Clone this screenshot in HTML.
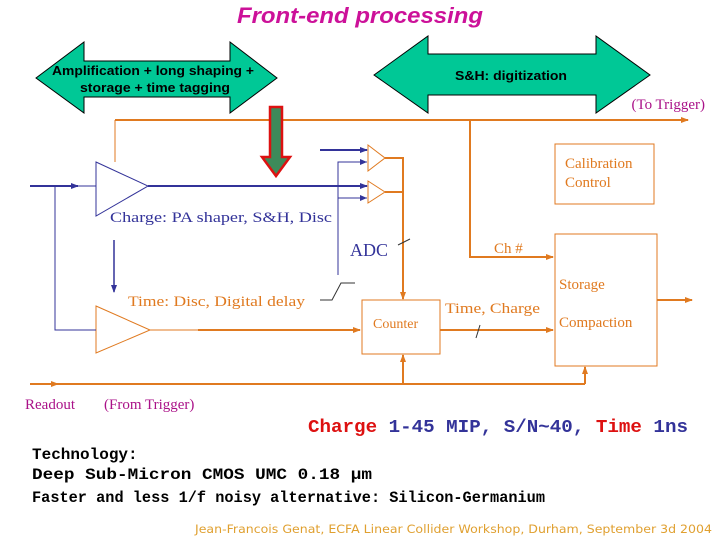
<!DOCTYPE html>
<html><head><meta charset="utf-8"><style>
html,body{margin:0;padding:0;background:#fff;}
svg{display:block;}
</style></head><body>
<svg width="720" height="540" viewBox="0 0 720 540" xmlns="http://www.w3.org/2000/svg">
<defs>
<marker id="ao" markerWidth="8" markerHeight="8" refX="7" refY="4" orient="auto" markerUnits="userSpaceOnUse"><path d="M0,1 L8,4 L0,7 z" fill="#e07a20"/></marker>
<marker id="ab" markerWidth="8" markerHeight="8" refX="7" refY="4" orient="auto" markerUnits="userSpaceOnUse"><path d="M0,1 L8,4 L0,7 z" fill="#333399"/></marker>
</defs>
<text x="360" y="23" text-anchor="middle" font-family="Liberation Sans, sans-serif" font-size="22" font-style="italic" font-weight="bold" fill="#cc1199" textLength="246" lengthAdjust="spacingAndGlyphs">Front-end processing</text>
<polygon points="36,78 84,42 84,61 230,61 230,42 277,78 230,113 230,97 84,97 84,113" fill="#00c896" stroke="#000" stroke-width="1"/>
<polygon points="374,75 428,36 428,54 596,54 596,36 650,75 596,113 596,95 428,95 428,113" fill="#00c896" stroke="#000" stroke-width="1"/>
<text x="153" y="75" text-anchor="middle" font-family="Liberation Sans, sans-serif" font-size="13" font-weight="bold" fill="#000" textLength="202" lengthAdjust="spacingAndGlyphs">Amplification + long shaping +</text>
<text x="155" y="92" text-anchor="middle" font-family="Liberation Sans, sans-serif" font-size="13" font-weight="bold" fill="#000" textLength="150" lengthAdjust="spacingAndGlyphs">storage + time tagging</text>
<text x="511" y="80" text-anchor="middle" font-family="Liberation Sans, sans-serif" font-size="13" font-weight="bold" fill="#000" textLength="112" lengthAdjust="spacingAndGlyphs">S&amp;H: digitization</text>
<text x="705" y="109" text-anchor="end" font-family="Liberation Serif, serif" font-size="15" fill="#aa1188">(To Trigger)</text>
<g stroke="#e07a20" stroke-width="2" fill="none">
<line x1="115" y1="120" x2="688" y2="120" marker-end="url(#ao)"/>
<line x1="115" y1="120" x2="115" y2="162" stroke-width="1"/>
<polyline points="470,120 470,257 553,257" marker-end="url(#ao)"/>
<polyline points="385,158 403,158 403,299" marker-end="url(#ao)"/>
<line x1="385" y1="192" x2="403" y2="192"/>
<line x1="198" y1="330" x2="360" y2="330" marker-end="url(#ao)"/>
<line x1="440" y1="330" x2="553" y2="330" marker-end="url(#ao)"/>
<line x1="657" y1="300" x2="692" y2="300" marker-end="url(#ao)"/>
<line x1="30" y1="384" x2="585" y2="384"/>
<line x1="30" y1="384" x2="58" y2="384" marker-end="url(#ao)"/>
<line x1="403" y1="384" x2="403" y2="355" marker-end="url(#ao)"/>
<line x1="585" y1="384" x2="585" y2="367" marker-end="url(#ao)"/>
</g>
<g stroke="#e07a20" stroke-width="1" fill="#fff">
<polygon points="368,145 385,158 368,171"/>
<polygon points="368,181 385,192 368,203"/>
<polygon points="96,306 150,330 96,353"/>
<rect x="362" y="300" width="78" height="54"/>
<rect x="555" y="144" width="99" height="60"/>
<rect x="555" y="234" width="102" height="132"/>
</g>
<line x1="150" y1="330" x2="198" y2="330" stroke="#e07a20" stroke-width="1"/>
<g stroke="#333399" stroke-width="2" fill="none">
<line x1="30" y1="186" x2="78" y2="186" marker-end="url(#ab)"/>
<line x1="148" y1="186" x2="367" y2="186" marker-end="url(#ab)"/>
<line x1="320" y1="150" x2="367" y2="150" marker-end="url(#ab)"/>
<line x1="114" y1="240" x2="114" y2="292" stroke-width="1.5" marker-end="url(#ab)"/>
</g>
<g stroke="#333399" stroke-width="1" fill="none">
<polyline points="55,186 55,330 96,330"/>
<line x1="78" y1="186" x2="96" y2="186"/>
<polyline points="367,162 338,162 338,275"/>
<line x1="338" y1="198" x2="367" y2="198"/>
</g>
<path d="M360,159 L367,162 L360,165z M360,195 L367,198 L360,201z" fill="#333399"/>
<polygon points="96,162 148,186 96,216" fill="#fff" stroke="#333399" stroke-width="1"/>
<polyline points="320,300 332,300 341,283 355,283" stroke="#333" stroke-width="1" fill="none"/>
<line x1="398" y1="245" x2="410" y2="239" stroke="#333" stroke-width="1"/>
<line x1="476" y1="338" x2="480" y2="325" stroke="#333" stroke-width="1"/>
<polygon points="270,107 282,107 282,157 290,157 276,176 262,157 270,157" fill="#3d8a5a" stroke="#dd1111" stroke-width="2.5"/>
<g font-family="Liberation Serif, serif" font-size="15">
<text x="110" y="222" fill="#333399" textLength="222" lengthAdjust="spacingAndGlyphs">Charge:  PA shaper,  S&amp;H,  Disc</text>
<text x="350" y="256" fill="#333399" font-size="18">ADC</text>
<text x="494" y="253" fill="#e07a20">Ch #</text>
<text x="128" y="306" fill="#e07a20" textLength="177" lengthAdjust="spacingAndGlyphs">Time:  Disc, Digital  delay</text>
<text x="373" y="328" fill="#e07a20" font-size="14">Counter</text>
<text x="445" y="313" fill="#e07a20" textLength="95" lengthAdjust="spacingAndGlyphs">Time, Charge</text>
<text x="565" y="168" fill="#e07a20">Calibration</text>
<text x="565" y="187" fill="#e07a20">Control</text>
<text x="559" y="289" fill="#e07a20">Storage</text>
<text x="559" y="327" fill="#e07a20">Compaction</text>
<text x="25" y="409" fill="#aa1188">Readout</text>
<text x="104" y="409" fill="#aa1188">(From Trigger)</text>
</g>
<text x="308" y="432" font-family="Liberation Mono, monospace" font-size="18" font-weight="bold" textLength="380" lengthAdjust="spacingAndGlyphs"><tspan fill="#dd1111">Charge</tspan><tspan fill="#333399"> 1-45 MIP,  S/N~40, </tspan><tspan fill="#dd1111">Time</tspan><tspan fill="#333399"> 1ns</tspan></text>
<g font-family="Liberation Mono, monospace" font-size="16" font-weight="bold" fill="#000">
<text x="32" y="459">Technology:</text>
<text x="32" y="479" textLength="340" lengthAdjust="spacingAndGlyphs">Deep Sub-Micron CMOS UMC 0.18 μm</text>
<text x="32" y="502" textLength="513" lengthAdjust="spacingAndGlyphs">Faster and less 1/f noisy alternative:  Silicon-Germanium</text>
</g>
<text x="712" y="533" text-anchor="end" font-family="DejaVu Sans, sans-serif" font-size="11.5" fill="#e0a030" textLength="517" lengthAdjust="spacingAndGlyphs">Jean-Francois Genat, ECFA Linear Collider Workshop, Durham, September 3d 2004</text>
</svg>
</body></html>
